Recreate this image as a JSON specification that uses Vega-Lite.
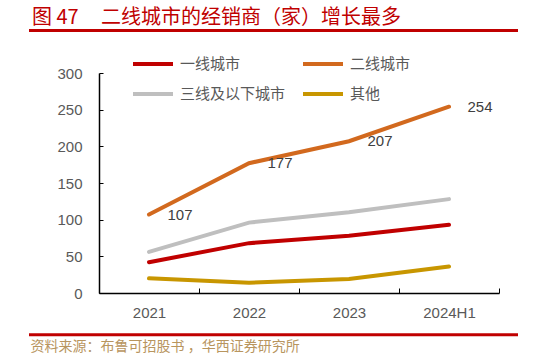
{
  "$schema": "https://vega.github.io/schema/vega-lite/v6.json",
  "width": 400,
  "height": 220,
  "autosize": "none",
  "padding": {"left": 99, "top": 73, "right": 34, "bottom": 67},
  "background": "white",
  "title": {
    "text": "图 47\u00a0\u00a0\u00a0\u00a0\u00a0二线城市的经销商（家）增长最多",
    "anchor": "start",
    "frame": "group",
    "dx": -67,
    "dy": 3,
    "font": "Noto Sans CJK SC",
    "fontSize": 20,
    "fontWeight": "normal",
    "color": "#C00000"
  },
  "config": {
    "view": {"stroke": null},
    "axis": {
      "domainColor": "#000000",
      "tickColor": "#000000",
      "labelColor": "#595959",
      "labelFont": "Liberation Sans",
      "labelFontSize": 15,
      "grid": false
    },
    "legend": {
      "orient": "none",
      "legendX": 32,
      "legendY": -31,
      "columns": 2,
      "direction": "horizontal",
      "symbolType": "stroke",
      "symbolSize": 1600,
      "symbolStrokeWidth": 4,
      "labelFont": "Noto Sans CJK SC",
      "labelFontSize": 15,
      "labelColor": "#595959",
      "labelOffset": 5,
      "rowPadding": -9,
      "columnPadding": 9
    }
  },
  "data": {
    "values": [
      {"year": "2021", "series": "一线城市", "value": 42},
      {"year": "2022", "series": "一线城市", "value": 68},
      {"year": "2023", "series": "一线城市", "value": 78},
      {"year": "2024H1", "series": "一线城市", "value": 93},
      {"year": "2021", "series": "二线城市", "value": 107},
      {"year": "2022", "series": "二线城市", "value": 177},
      {"year": "2023", "series": "二线城市", "value": 207},
      {"year": "2024H1", "series": "二线城市", "value": 254},
      {"year": "2021", "series": "三线及以下城市", "value": 56},
      {"year": "2022", "series": "三线及以下城市", "value": 96},
      {"year": "2023", "series": "三线及以下城市", "value": 110},
      {"year": "2024H1", "series": "三线及以下城市", "value": 128},
      {"year": "2021", "series": "其他", "value": 20},
      {"year": "2022", "series": "其他", "value": 14},
      {"year": "2023", "series": "其他", "value": 19},
      {"year": "2024H1", "series": "其他", "value": 36}
    ]
  },
  "layer": [
    {
      "mark": {"type": "line", "strokeWidth": 4, "strokeCap": "round"},
      "encoding": {
        "x": {
          "field": "year",
          "type": "ordinal",
          "sort": ["2021", "2022", "2023", "2024H1"],
          "bandPosition": 0.5,
          "scale": {"type": "band", "paddingInner": 0, "paddingOuter": 0},
          "axis": {
            "labelAngle": 0,
            "tickBand": "extent",
            "tickSize": -5,
            "labelPadding": 17,
            "domainWidth": 1.5,
            "title": "资料来源：布鲁可招股书 ，华西证券研究所",
            "titleX": -69,
            "titleY": 53,
            "titleAlign": "left",
            "titleBaseline": "middle",
            "titleFont": "Noto Sans CJK SC",
            "titleFontSize": 14,
            "titleFontWeight": "normal",
            "titleColor": "#B8955E"
          }
        },
        "y": {
          "field": "value",
          "type": "quantitative",
          "scale": {"domain": [0, 300]},
          "axis": {
            "values": [0, 50, 100, 150, 200, 250, 300],
            "tickSize": -4,
            "labelPadding": 21,
            "domainWidth": 1.5,
            "title": null
          }
        },
        "color": {
          "field": "series",
          "type": "nominal",
          "sort": ["一线城市", "二线城市", "三线及以下城市", "其他"],
          "scale": {
            "domain": ["一线城市", "二线城市", "三线及以下城市", "其他"],
            "range": ["#C00000", "#D2691E", "#BFBFBF", "#C89600"]
          },
          "legend": {"title": null}
        }
      }
    },
    {
      "transform": [{"filter": "datum.series === '二线城市'"}],
      "mark": {
        "type": "text",
        "dx": 31,
        "align": "center",
        "baseline": "middle",
        "font": "Liberation Sans",
        "fontSize": 15,
        "color": "#404040"
      },
      "encoding": {
        "x": {
          "field": "year",
          "type": "ordinal",
          "sort": ["2021", "2022", "2023", "2024H1"],
          "bandPosition": 0.5,
          "axis": {
            "labelAngle": 0,
            "tickBand": "extent",
            "tickSize": -5,
            "labelPadding": 17,
            "domainWidth": 1.5,
            "title": "资料来源：布鲁可招股书 ，华西证券研究所",
            "titleX": -69,
            "titleY": 53,
            "titleAlign": "left",
            "titleBaseline": "middle",
            "titleFont": "Noto Sans CJK SC",
            "titleFontSize": 14,
            "titleFontWeight": "normal",
            "titleColor": "#B8955E"
          }
        },
        "y": {
          "field": "value",
          "type": "quantitative",
          "axis": {
            "values": [0, 50, 100, 150, 200, 250, 300],
            "tickSize": -4,
            "labelPadding": 21,
            "domainWidth": 1.5,
            "title": null
          }
        },
        "text": {"field": "value", "type": "quantitative"}
      }
    },
    {
      "data": {"values": [{"part": "header"}]},
      "mark": {"type": "rule", "color": "#C00000", "strokeWidth": 3},
      "encoding": {
        "x": {"value": -70},
        "x2": {"value": 419},
        "y": {
          "datum": 358,
          "type": "quantitative",
          "axis": {
            "values": [0, 50, 100, 150, 200, 250, 300],
            "tickSize": -4,
            "labelPadding": 21,
            "domainWidth": 1.5,
            "title": null
          }
        }
      }
    },
    {
      "data": {"values": [{"part": "footer"}]},
      "mark": {"type": "rule", "color": "#C00000", "strokeWidth": 3},
      "encoding": {
        "x": {"value": -70},
        "x2": {"value": 419},
        "y": {
          "datum": -57,
          "type": "quantitative",
          "axis": {
            "values": [0, 50, 100, 150, 200, 250, 300],
            "tickSize": -4,
            "labelPadding": 21,
            "domainWidth": 1.5,
            "title": null
          }
        }
      }
    }
  ]
}
